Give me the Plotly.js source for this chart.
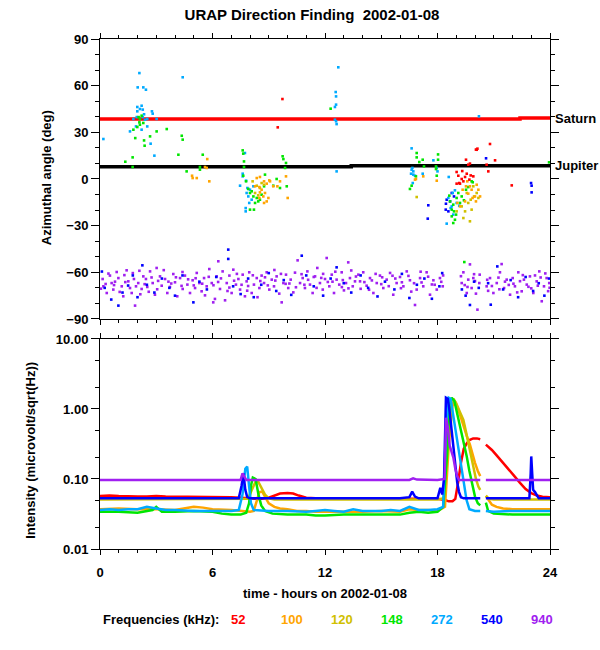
<!DOCTYPE html>
<html>
<head>
<meta charset="utf-8">
<script src="https://cdn.plot.ly/plotly-3.0.1.min.js"></script>
<style>html,body{margin:0;padding:0;background:#fff;}#plot{width:600px;height:650px;}</style>
</head>
<body>
<div id="plot"></div>
<script>
// ---------- Data ----------
const freqLabels = ['52', '100', '120', '148', '272', '540', '940'];
const freqColors = ['#ff0000', '#ffa500', '#d0c000', '#00e600', '#00aaff', '#0000ff', '#a020f0'];

// Planet reference directions (deg)
const saturnT = [0, 22.4, 22.4, 24];
const saturnA = [38.6, 38.6, 39.2, 39.2];
const jupiterT = [0, 13.4, 13.4, 24];
const jupiterA = [7.9, 7.9, 8.5, 8.5];

// Top panel: azimuth points
const top52T = [9.73,9.48,19.52,19.73,19.64,20.05,20.13,20.8,21.07,20.62,20.71,19.32,19.02,19.11,19.16,19.29,19.47,19.91,19.02,19.2,19.7,19.77,19.56,19.38,21.96,20.09];
const top52A = [51.4,33.2,12.4,9.9,9.2,18.9,19.5,22.5,12.0,9.2,4.9,5.1,4.5,2.1,-2.6,0,1.3,1.7,-3.0,-3.0,-0.4,2.3,3.4,-1.5,-4.1,18.8];

const top100T = [4.91,4.94,5.6,5.69,5.72,5.83,5.16,8.36,8.53,8.75,8.89,8.5,8.62,8.8,8.71,8.5,8.89,8.98,8.75,9.07,9.24,9.46,9.6,9.92,10.01,9.03,8.27,8.53,16.8,16.85,17.24,17.96,20.0,20.18,20.05,19.52,19.34,19.82,19.64,19.87,19.47,19.2,19.73,20.27,19.06,20.09,19.59];
const top100A = [2.1,0.6,7.7,7.1,12.8,-1.5,0.6,0.6,1.3,-1.5,-3.0,-5.2,-6.9,-9.0,-11.2,-12.2,-14.4,-12.2,-15.4,-1.5,-4.7,-4.7,-1.5,1.7,-12.2,-0.9,-4.7,-8.6,-0.4,0.0,1.7,-1.1,-11.2,-6.9,-14.4,-4.7,-6.9,-6.9,-9.4,-12.2,-14.4,-17.6,-4.7,-11.2,-15.4,-3.7,-1.5];

const top120T = [8.14,8.36,8.53,8.62,8.27,8.44,8.75,16.89,19.73,19.82,20.09,19.95,19.64,19.47,19.77,19.91,19.29,19.56,20.18,19.38,19.02];
const top120A = [-1.5,-4.3,-5.8,-2.6,-9.0,-10.5,-3.7,-11.6,-27.2,-19.7,-9.0,-11.2,-15.4,-20.8,-13.3,-4.7,-17.6,-9.0,-12.2,-25.1,-20.8];

const top148T = [1.35,1.74,1.74,1.78,1.88,1.99,2.13,2.13,2.1,2.31,2.22,2.06,2.35,2.38,2.67,3.02,3.56,4.36,4.41,4.18,4.62,5.33,5.48,5.33,
  7.61,7.64,7.68,7.68,7.64,7.79,8.0,8.18,8.36,8.44,8.27,8.53,8.0,8.21,8.09,7.91,8.62,8.8,9.42,9.74,9.78,9.92,9.87,9.96,9.24,9.6,8.75,12.3,
  16.89,16.89,17.21,17.03,17.28,16.85,16.62,16.53,18.03,18.03,17.92,17.92,17.96,
  18.67,18.84,18.88,18.76,18.93,18.84,19.11,19.29,19.64,19.82,19.88,19.41,19.02,19.2,18.76,18.99,19.43,23.95,18.63,19.52];
const top148A = [11.1,13.9,7.7,31.7,26.3,33.4,34.9,38.6,36.4,36.0,40.7,39.8,24.8,21.4,27.4,30.6,32.1,27.8,25.3,15.6,4.9,6.0,15.6,7.7,
  18.4,16.3,11.3,7.7,2.1,-1.5,-9.0,-11.2,-12.2,-14.4,-15.4,-13.3,-19.7,-19.7,-7.9,-6.4,-10.1,2.8,0,14.6,12.8,10.3,7.1,-4.7,-4.3,-5.8,-4.7,45.2,
  16.7,13.9,12.4,10.9,8.1,1.7,-4.3,-6.4,15.8,12.4,8.1,6.4,2.1,
  -14.4,-16.5,-20.8,-24.0,-26.2,-28.3,-9.0,-11.2,-5.2,-1.5,-2.1,-13.7,-12.2,-15.4,-19.7,-22.9,-53.4,10.7,-10.7,-6.9];

const top272T = [0.18,2.1,2.01,2.31,2.45,2.22,2.13,1.99,2.35,1.96,2.28,2.52,2.77,2.81,1.92,2.22,2.52,1.6,2.7,2.9,3.02,1.99,2.28,2.4,1.78,4.41,
  7.73,7.61,7.79,7.86,8.0,8.18,7.47,7.77,7.77,7.91,8.09,7.96,7.82,7.61,
  12.71,12.57,12.59,12.59,12.53,12.53,12.59,12.62,12.62,20.21,
  16.62,16.66,16.62,16.71,16.59,16.71,16.8,16.68,17.21,17.78,17.96,18.0,18.6,
  18.49,18.76,18.84,18.93,18.7,19.16,19.02,18.81,18.58];
const top272A = [25.7,68.1,58.9,58.9,57.4,47.1,45.0,43.5,41.6,39.8,39.8,38.6,43.5,42.0,33.8,31.7,33.8,30.6,22.7,15.0,38.6,46.3,44.6,38.1,38.6,65.4,
  16.7,3.4,-1.1,-5.8,-6.9,-4.7,-4.3,-20.8,-18.7,-11.2,-13.3,-15.4,-9.0,1.7,
  71.8,55.9,53.1,47.8,46.3,38.1,37.1,35.3,4.9,40.3,
  19.7,7.1,6.0,4.9,3.4,2.8,2.1,-2.6,3.4,12.0,7.1,4.9,1.3,
  -28.7,-17.6,-22.9,-7.3,-18.7,-17.2,-15.4,-9.0,-12.2];

const top540T = [20.59,22.99,23.02,23.02,17.51,17.48,18.76,18.67,18.44,18.58,18.88,18.49,18.45,
  0.1,0.25,0.6,0.98,1.2,1.5,1.75,2.0,2.26,2.5,2.9,3.3,3.7,4.0,4.4,4.98,5.3,5.7,6.2,6.84,6.84,7.1,7.5,7.9,8.2,8.6,9.0,9.4,9.8,10.2,10.76,11.0,11.4,11.9,12.3,12.62,13.0,13.4,13.9,14.3,14.8,15.2,15.7,16.1,16.5,16.9,17.3,17.7,18.1,18.25,19.3,19.5,19.73,19.95,20.2,20.84,20.7,21.19,21.5,21.9,22.3,22.7,23.1,23.4,23.7,23.95];
const top540A = [13.3,-2.6,-4.3,-8.6,-16.9,-25.5,-9.0,-14.4,-19.7,-20.8,-11.2,-13.3,-15.9,
  -59.5,-70,-77.5,-81.4,-73,-68.5,-62,-76,-55.5,-68,-73,-64,-70,-75,-62,-79.3,-66,-71,-63,-45.4,-51.4,-69,-74,-64,-76,-68,-60.5,-72,-65,-74.5,-49.3,-62,-69,-75,-64,-56.8,-67,-73,-62,-70,-75.5,-66,-71,-61,-76.5,-68,-64,-77,-69,-60.5,-71,-75,-81,-66,-70,-80.8,-67,-56.2,-71,-65,-76,-63,-72,-67,-75,-64];

const top940 = [
  [0.14,-64.3],[0.18,-69.0],[0.36,-73.3],[0.53,-62.1],[0.62,-66.9],[0.71,-71.1],[0.89,-59.8],[0.98,-63.7],[1.16,-69.0],[1.24,-75.4],
  [1.42,-58.7],[1.51,-65.8],[1.6,-70.1],[1.69,-73.3],[1.81,-64.3],[1.87,-81.4],[1.92,-69.0],[2.04,-66.9],[2.22,-70.7],[2.31,-62.6],
  [2.45,-64.3],[2.52,-69.4],[2.67,-59.4],[2.81,-66.9],[2.93,-74.4],[3.02,-57.2],[3.2,-62.6],[3.29,-68.6],[3.47,-64.3],[3.59,-73.3],
  [3.73,-69.4],[3.91,-61.1],[4.0,-66.4],[4.12,-75.4],[4.27,-63.7],[4.41,-70.7],[4.53,-62.1],[4.66,-67.9],[4.8,-73.3],[4.94,-65.1],
  [5.07,-70.1],[5.16,-60.4],[5.3,-66.9],[5.42,-72.2],[5.55,-63.7],[5.69,-69.0],[5.83,-57.9],[5.96,-66.9],[6.04,-79.3],[6.13,-77.1],
  [6.22,-62.6],[6.31,-52.9],[6.4,-70.7],[6.54,-59.4],[6.67,-78.0],[6.76,-66.9],[6.9,-62.1],[7.02,-73.3],[7.11,-58.3],[7.25,-67.9],
  [7.38,-64.3],[7.47,-71.1],[7.61,-61.5],[7.73,-75.4],[7.82,-65.8],[7.96,-60.0],[8.09,-73.3],[8.21,-67.9],[8.36,-63.7],[8.5,-70.1],
  [8.62,-62.1],[8.75,-66.9],[8.89,-60.0],[9.03,-71.1],[9.16,-64.7],[9.28,-69.0],[9.42,-62.6],[9.56,-73.7],[9.69,-79.3],[9.78,-66.9],
  [9.92,-61.5],[10.04,-70.1],[10.17,-64.7],[10.31,-72.9],[10.54,-52.3],[10.67,-66.9],[10.81,-63.7],[10.93,-70.1],[11.06,-59.4],[11.2,-67.9],
  [11.34,-73.3],[11.47,-62.6],[11.59,-57.2],[11.73,-66.9],[11.88,-71.1],[12.0,-64.3],[12.09,-50.8],[12.23,-69.0],[12.36,-61.5],[12.48,-73.3],
  [12.62,-64.7],[12.76,-67.9],[12.89,-60.0],[13.01,-71.6],[13.12,-66.9],[13.24,-53.6],[13.33,-63.7],[13.48,-69.0],[13.6,-65.8],[13.78,-61.5],
  [13.87,-65.8],[14.04,-60.0],[14.22,-68.6],[14.4,-63.7],[14.58,-73.3],[14.76,-66.9],[14.93,-62.1],[15.11,-70.1],[15.29,-64.7],[15.47,-60.4],
  [15.64,-74.4],[15.82,-66.9],[16.0,-63.0],[16.18,-69.0],[16.36,-59.4],[16.53,-65.1],[16.8,-81.0],[16.89,-71.1],[17.07,-63.7],[17.24,-69.0],
  [17.42,-60.0],[17.6,-74.4],[17.78,-65.1],[17.96,-71.1],[18.13,-63.7],[18.28,-69.0],[19.29,-66.9],[19.38,-60.0],[19.56,-73.3],[19.64,-64.7],
  [19.73,-54.9],[19.82,-70.1],[19.91,-63.7],[20.05,-73.7],[20.13,-84.0],[20.23,-66.9],[20.62,-69.0],[20.8,-63.7],[20.98,-73.3],[21.16,-66.9],
  [21.33,-60.0],[21.42,-54.7],[21.55,-70.1],[21.69,-64.7],[21.87,-74.4],[22.01,-63.7],[22.13,-69.0],[22.31,-60.0],[22.49,-72.2],[22.61,-64.7],
  [22.76,-67.9],[22.93,-62.6],[23.11,-73.3],[23.29,-65.8],[23.43,-59.4],[23.56,-78.6],[23.68,-69.0],[23.82,-63.7],[23.96,-66.9],
  [0.3,-67.5],[0.8,-66.0],[1.3,-61.8],[2.1,-59.0],[2.6,-72.5],[3.1,-65.5],[3.8,-67.2],[4.4,-59.8],[5.0,-68.4],[5.6,-74.8],
  [6.3,-66.2],[6.9,-69.8],[7.3,-61.0],[7.9,-68.8],[8.4,-76.0],[8.8,-63.2],[9.3,-58.5],[9.9,-67.4],[10.4,-60.2],[10.9,-68.0],
  [11.4,-63.0],[11.9,-61.0],[12.4,-66.0],[12.9,-69.5],[13.4,-58.8],[13.9,-70.6],[14.5,-65.2],[15.0,-67.6],[15.6,-62.2],[16.1,-66.4],
  [16.6,-72.4],[17.1,-59.6],[17.7,-67.8],[18.2,-66.1],[19.45,-68.2],[19.95,-61.2],[20.7,-71.9],[21.25,-63.4],[21.8,-68.1],[22.4,-65.7],
  [23.0,-70.3],[23.5,-63.3],[23.9,-72.1],
  [0.05,-70.5],[0.45,-60.8],[0.75,-68.2],[1.05,-72.6],[1.35,-66.3],[1.75,-60.5],[2.15,-74.1],[2.38,-67.6],[2.75,-63.3],[3.05,-70.9],
  [3.4,-58.6],[3.65,-66.0],[4.05,-63.2],[4.35,-68.7],[4.7,-64.5],[5.1,-63.8],[5.45,-67.3],[5.8,-62.9],[6.05,-68.3],[6.45,-63.9],
  [6.8,-72.0],[7.15,-65.4],[7.55,-68.0],[7.85,-71.8],[8.15,-61.9],[8.55,-65.6],[8.95,-68.4],[9.35,-65.3],[9.65,-61.0],[10.1,-67.2],
  [10.45,-69.6],[10.75,-61.2],[11.1,-64.8],[11.55,-70.0],[11.8,-63.6],[12.15,-66.2],[12.55,-59.6],[12.95,-65.0],[13.25,-70.3],[13.65,-62.7],
  [14.1,-66.3],[14.35,-71.2],[14.7,-61.0],[15.05,-63.2],[15.4,-68.9],[15.75,-64.0],[16.05,-70.2],[16.45,-62.3],[16.75,-67.0],[17.15,-66.5],
  [17.5,-62.8],[17.85,-68.0],[18.3,-62.0],[19.25,-62.5],[19.6,-69.4],[20.0,-65.6],[20.25,-61.5],[20.65,-64.8],[20.9,-68.8],[21.3,-70.9],
  [21.6,-66.0],[22.05,-67.3],[22.25,-72.9],[22.55,-61.8],[22.85,-69.3],[23.2,-62.0],[23.35,-68.6],[23.75,-60.7],[23.98,-69.9]
];

// Bottom panel: intensity (microvolt/sqrt(Hz)); null = data gap
const t52 = [0,0.5,1,1.5,2,2.5,3,3.5,4,4.5,5,5.5,6,6.5,7,7.5,8,8.5,9,9.3,9.6,10,10.3,10.6,11,11.5,12,13,14,15,16,17,18,18.4,18.6,18.8,18.95,19.1,19.25,19.4,19.55,19.7,19.9,20.1,20.28,20.4,20.58,20.9,21.2,21.5,21.8,22.1,22.4,22.7,23,23.3,23.6,24];
const v52 = [0.057,0.058,0.057,0.056,0.056,0.056,0.057,0.056,0.056,0.056,0.056,0.056,0.055,0.055,0.055,0.054,0.053,0.052,0.054,0.058,0.062,0.063,0.062,0.058,0.054,0.053,0.052,0.052,0.052,0.052,0.052,0.052,0.052,0.050,0.048,0.048,0.052,0.09,0.17,0.27,0.32,0.36,0.38,0.38,0.37,null,0.31,0.26,0.21,0.17,0.14,0.11,0.088,0.072,0.063,0.058,0.056,0.055];

const t100 = [0,1,2,3,4,4.5,5,5.5,6,7,7.5,8,8.2,8.35,8.5,8.65,8.8,9,9.3,9.6,10,10.5,11,11.5,12,13,14,15,16,16.5,17,17.5,18,18.4,18.6,18.8,18.93,19.1,19.38,19.55,19.73,19.85,20.0,20.15,20.28,20.4,20.58,20.75,20.9,21.15,21.5,22,23,24];
const v100 = [0.037,0.038,0.037,0.037,0.036,0.038,0.04,0.039,0.037,0.036,0.035,0.034,0.035,0.05,0.065,0.066,0.055,0.045,0.04,0.038,0.037,0.035,0.035,0.034,0.034,0.034,0.034,0.035,0.034,0.037,0.036,0.036,0.035,0.04,0.3,1.1,1.28,1.0,0.56,0.42,0.31,0.23,0.17,0.13,0.11,null,0.057,0.05,0.043,0.04,0.038,0.037,0.037,0.037];

const t120 = [0,2,4,6,7,7.9,8.1,8.3,8.45,8.6,8.8,9,9.3,10,12,14,16,18,18.35,18.5,18.7,18.85,19.0,19.2,19.38,19.5,19.64,19.8,19.91,20.05,20.18,20.28,20.4,20.58,20.75,21,22,23,24];
const v120 = [0.051,0.051,0.051,0.051,0.051,0.052,0.07,0.092,0.09,0.075,0.06,0.053,0.051,0.051,0.051,0.05,0.05,0.051,0.053,0.2,1.0,1.4,1.2,0.9,0.7,0.5,0.33,0.2,0.15,0.1,0.078,0.07,null,0.058,0.052,0.051,0.051,0.051,0.051];

const t148 = [0,1,2,2.8,3.0,3.3,4,5,6,6.5,7,7.5,7.8,7.95,8.05,8.15,8.3,8.45,8.6,8.8,9.2,10,11,11.5,12,13,14,15,16,16.5,17,17.5,18,18.3,18.5,18.65,18.76,18.9,19.05,19.29,19.45,19.56,19.7,19.82,20.0,20.15,20.28,20.4,20.58,20.7,21,22,23,24];
const v148 = [0.034,0.034,0.033,0.036,0.04,0.034,0.034,0.035,0.034,0.032,0.031,0.031,0.033,0.045,0.08,0.105,0.1,0.06,0.042,0.035,0.032,0.031,0.031,0.03,0.03,0.031,0.031,0.031,0.031,0.033,0.034,0.033,0.034,0.04,0.2,1.2,1.45,1.3,0.85,0.46,0.3,0.21,0.13,0.088,0.056,0.045,0.042,null,0.046,0.035,0.032,0.031,0.031,0.031];

const t272 = [0,0.5,1,1.5,2,2.5,3,3.5,4,5,6,7,7.4,7.6,7.75,7.85,7.95,8.05,8.2,9,10,11,11.5,12,12.5,13,13.5,14,15,15.5,16,16.5,17,17.5,18,18.3,18.45,18.6,18.7,18.85,19.0,19.1,19.25,19.4,19.55,19.7,20.0,20.28,20.4,20.58,21,22,23,24];
const v272 = [0.036,0.037,0.036,0.037,0.037,0.04,0.038,0.036,0.036,0.035,0.035,0.035,0.036,0.06,0.14,0.15,0.08,0.045,0.036,0.035,0.035,0.034,0.035,0.036,0.035,0.034,0.037,0.035,0.035,0.036,0.035,0.04,0.036,0.036,0.037,0.04,0.5,1.45,1.4,0.78,0.45,0.29,0.16,0.1,0.05,0.037,0.035,0.035,null,0.035,0.034,0.035,0.035,0.035];

const t540 = [0,2,4,6,7,7.4,7.55,7.65,7.75,7.85,8,10,12,14,16,16.5,16.65,16.8,17,18,18.15,18.25,18.35,18.45,18.55,18.65,18.75,18.85,18.95,19.05,19.15,19.25,19.4,20,20.28,20.4,20.58,21,22,22.9,22.97,23.0,23.05,23.1,23.2,23.3,23.4,24];
const v540 = [0.053,0.053,0.053,0.053,0.053,0.053,0.08,0.12,0.07,0.055,0.053,0.053,0.053,0.053,0.053,0.055,0.066,0.056,0.053,0.053,0.075,0.06,0.1,1.45,1.4,0.9,0.5,0.3,0.15,0.09,0.065,0.055,0.053,0.053,0.053,null,0.053,0.053,0.053,0.053,0.12,0.21,0.12,0.07,0.065,0.057,0.053,0.053];

const t940 = [0,2,4,6,7,7.5,7.6,7.7,7.8,8,10,12,14,16,16.5,16.7,16.9,18,18.38,18.45,18.55,18.65,18.75,18.85,18.95,19.05,19.15,19.5,20,20.28,20.4,20.58,21,22,23,24];
const v940 = [0.097,0.097,0.097,0.097,0.097,0.097,0.12,0.11,0.097,0.097,0.097,0.097,0.097,0.097,0.097,0.102,0.098,0.097,0.1,0.75,0.55,0.3,0.25,0.2,0.14,0.11,0.097,0.097,0.097,0.097,null,0.097,0.097,0.097,0.097,0.097];

const hourTicks = [0, 6, 12, 18, 24];
const angleTicks = [-90, -60, -30, 0, 30, 60, 90];
const intensityTicks = [0.01, 0.1, 1, 10];
const intensityTickText = ['0.01', '0.10', '1.00', '10.00'];
const intensityMinor = [0.02, 0.05, 0.2, 0.5, 2, 5];

// ---------- Traces ----------
const traces = [];
traces.push({x: saturnT, y: saturnA, xaxis: 'x2', yaxis: 'y2', mode: 'lines', line: {color: '#ff0000', width: 3.5}});
traces.push({x: jupiterT, y: jupiterA, xaxis: 'x2', yaxis: 'y2', mode: 'lines', line: {color: '#000000', width: 3.5}});

function pts(x, y, color) {
  return {x: x, y: y, xaxis: 'x2', yaxis: 'y2', mode: 'markers', type: 'scatter',
    marker: {symbol: 'square', size: 2.6, color: color, line: {width: 0}}};
}
traces.push(pts(top940.map(p => p[0]), top940.map(p => p[1]), freqColors[6]));
traces.push(pts(top540T, top540A, freqColors[5]));
traces.push(pts(top272T, top272A, freqColors[4]));
traces.push(pts(top148T, top148A, freqColors[3]));
traces.push(pts(top120T, top120A, freqColors[2]));
traces.push(pts(top100T, top100A, freqColors[1]));
traces.push(pts(top52T, top52A, freqColors[0]));

const series = [[t52, v52], [t100, v100], [t120, v120], [t148, v148], [t272, v272], [t540, v540], [t940, v940]];
series.forEach((s, i) => {
  traces.push({x: s[0], y: s[1], xaxis: 'x', yaxis: 'y', mode: 'lines', connectgaps: false,
    line: {color: freqColors[i], width: 2.5}});
});

// ---------- Layout ----------
const FONT = 'Liberation Sans, Arial, Helvetica, sans-serif';
const commonX = {
  range: [0, 24], tickmode: 'array', tickvals: hourTicks, ticks: 'outside', ticklen: 5, tickwidth: 1,
  tickcolor: '#000', showline: true, linecolor: '#000', linewidth: 1, mirror: 'ticks',
  showgrid: false, zeroline: false, fixedrange: true,
  minor: {dtick: 1, tick0: 0, ticks: 'outside', ticklen: 3, tickcolor: '#000', showgrid: false}
};
const F = {size: 13, weight: 'bold'};

const annotations = [
  {text: 'Saturn', xref: 'paper', yref: 'y2', x: 1.006, y: 38.6, xanchor: 'left', yanchor: 'middle', showarrow: false, font: F},
  {text: 'Jupiter', xref: 'paper', yref: 'y2', x: 1.006, y: 8.6, xanchor: 'left', yanchor: 'middle', showarrow: false, font: F},
  {text: 'time - hours on 2002-01-08', xref: 'paper', yref: 'paper', x: 0.5, y: -0.0863, xanchor: 'center', yanchor: 'middle', showarrow: false, font: F},
  {text: 'Azimuthal angle (deg)', xref: 'paper', yref: 'paper', x: -0.12, y: 0.727, xanchor: 'center', yanchor: 'middle', textangle: -90, showarrow: false, font: F},
  {text: 'Intensity (microvolt/sqrt(Hz))', xref: 'paper', yref: 'paper', x: -0.156, y: 0.194, xanchor: 'center', yanchor: 'middle', textangle: -90, showarrow: false, font: F},
  {text: 'Frequencies (kHz):', xref: 'paper', yref: 'paper', x: 0.002, y: -0.139, xanchor: 'left', yanchor: 'middle', showarrow: false, font: F}
];
const legendX = [0.307, 0.427, 0.538, 0.649, 0.76, 0.871, 0.982];
freqLabels.forEach((f, i) => {
  annotations.push({text: f, xref: 'paper', yref: 'paper', x: legendX[i], y: -0.139, xanchor: 'center', yanchor: 'middle',
    showarrow: false, font: {size: 13, weight: 'bold', color: freqColors[i]}});
});

const layout = {
  width: 600, height: 650,
  margin: {l: 100, r: 50, t: 39, b: 101, pad: 0},
  paper_bgcolor: '#ffffff', plot_bgcolor: '#ffffff',
  font: {family: FONT, size: 13, color: '#000', weight: 'bold'},
  showlegend: false, hovermode: false,
  title: {text: 'URAP Direction Finding \u00a02002-01-08', x: 0.52, xanchor: 'center', xref: 'container',
    y: 0.977, yanchor: 'middle', yref: 'container', font: {size: 15, color: '#000', family: FONT, weight: 'bold'}},
  xaxis: Object.assign({}, commonX, {anchor: 'y', domain: [0, 1], showticklabels: true, ticklabelstandoff: 6}),
  xaxis2: Object.assign({}, commonX, {anchor: 'y2', domain: [0, 1], showticklabels: false}),
  yaxis2: {
    domain: [0.451, 1], anchor: 'x2', range: [-90, 90], tickmode: 'array', tickvals: angleTicks,
    ticks: 'outside', ticklen: 8, tickwidth: 1, tickcolor: '#000', showline: true, linecolor: '#000', linewidth: 1,
    mirror: 'ticks', showgrid: false, zeroline: false, fixedrange: true,
    minor: {dtick: 10, tick0: 0, ticks: 'outside', ticklen: 4, tickcolor: '#000', showgrid: false}
  },
  yaxis: {
    domain: [0, 0.4118], anchor: 'x', type: 'log', range: [-2, 1], tickmode: 'array',
    tickvals: intensityTicks, ticktext: intensityTickText,
    ticks: 'outside', ticklen: 8, tickwidth: 1, tickcolor: '#000', showline: true, linecolor: '#000', linewidth: 1,
    mirror: 'ticks', showgrid: false, zeroline: false, fixedrange: true,
    minor: {tickmode: 'array', tickvals: intensityMinor, ticks: 'outside', ticklen: 4, tickcolor: '#000', showgrid: false}
  },
  annotations: annotations
};

Plotly.newPlot('plot', traces, layout, {staticPlot: true, displayModeBar: false});
</script>
</body>
</html>
